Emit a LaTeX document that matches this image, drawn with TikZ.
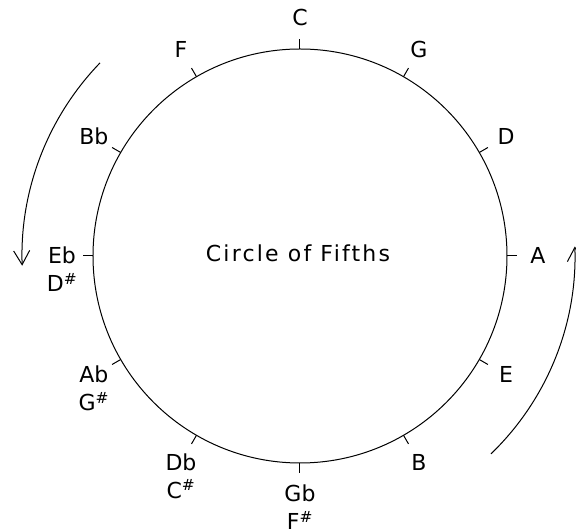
\documentclass[tikz,border=0pt]{standalone}
\usepackage{fontspec}
\setmainfont{DejaVu Sans}
\newfontfamily\titlefont[LetterSpace=10]{DejaVu Sans}
\usetikzlibrary{arrows.meta, positioning}

\begin{document}
\begin{tikzpicture}[x=1pt, y=1pt, line width=1pt, node distance=28pt, on grid,
  note/.style={font=\fontsize{22}{24}\selectfont, text height=16pt, text depth=0pt, inner sep=0pt},
  turn/.style={-{Straight Barb[length=14pt, width=16pt]}}]
\useasboundingbox (-300,-273) rectangle (276,256);
\draw (0,0) circle[radius=207];
\foreach \a in {0,30,...,330} {
  \draw (\a:207) -- (\a:217);
}
% keys round the circle
\foreach \a/\n/\k in {90/c/C, 60/g/G, 30/d/D, 0/a/A, -30/e/E, -60/b/B,
                      -90/gb/Gb, -120/db/Db, -150/ab/Ab, 180/eb/Eb, 150/bb/Bb, 120/f/F} {
  \node[note] (\n) at (\a:238) {\k};
}
\node[note, below=of gb] (fs) {F\textsuperscript{\#}};
\node[note, below=of db] (cs) {C\textsuperscript{\#}};
\node[note, below=of ab] (gs) {G\textsuperscript{\#}};
\node[note, below=of eb] (ds) {D\textsuperscript{\#}};
\node[note, font=\fontsize{22}{24}\titlefont] (title) at (-2,2) {Circle of Fifths};
% direction arrows
\draw[turn] (136:278) arc[start angle=136, end angle=182, radius=278];
\draw[turn] (-46:275) arc[start angle=-46, end angle=2, radius=275];
\end{tikzpicture}
\end{document}
